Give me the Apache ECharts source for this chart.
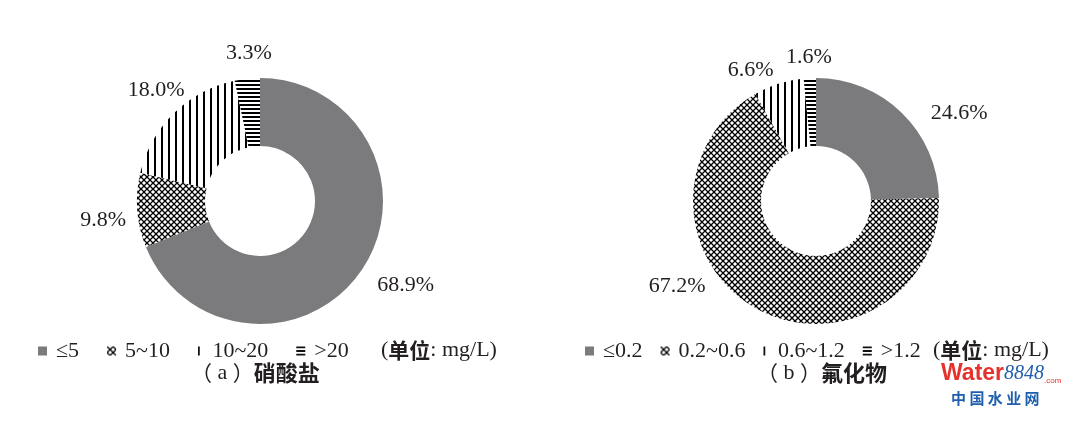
<!DOCTYPE html>
<html><head><meta charset="utf-8">
<script src="https://cdn.jsdelivr.net/npm/echarts@6/dist/echarts.min.js"></script>
<style>html,body{margin:0;padding:0;background:#fff}#c{width:1080px;height:422px}</style>
</head><body><div id="c"></div>
<script>
// ---- data ----
const nitrateCategories = ['≤5', '5~10', '10~20', '>20'];
const nitrateValues = [68.9, 9.8, 18.0, 3.3];
const fluorideCategories = ['≤0.2', '0.2~0.6', '0.6~1.2', '>1.2'];
const fluorideValues = [24.6, 67.2, 6.6, 1.6];
const unitText = '单位';
const unitRest = ': mg/L)';
const captionA = ['a', '硝酸盐'];
const captionB = ['b', '氟化物'];

// ---- styles ----
const SERIF = "'Liberation Serif', 'Times New Roman', 'Noto Sans CJK SC', serif";
const CJK = "'Noto Sans CJK SC', sans-serif";
const TXT = '#231f20';
const GRAY = '#7b7b7e';

function makePattern(w, h, draw) {
  const c = document.createElement('canvas');
  c.width = w; c.height = h;
  const g = c.getContext('2d');
  g.fillStyle = '#fff'; g.fillRect(0, 0, w, h);
  g.fillStyle = '#000'; g.strokeStyle = '#000';
  draw(g);
  return { image: c, repeat: 'repeat' };
}
const crossHatch = makePattern(6, 6, g => {
  g.lineWidth = 1.3;
  g.beginPath();
  g.moveTo(0, 0); g.lineTo(6, 6);
  g.moveTo(6, 0); g.lineTo(0, 6);
  g.stroke();
});
const verticalLines = makePattern(7, 7, g => { g.fillRect(0, 0, 2, 7); });
const horizontalLines = makePattern(4, 4, g => { g.fillRect(0, 0, 4, 2); });
const sliceColors = [GRAY, crossHatch, verticalLines, horizontalLines];

const legendIcons = [
  'rect',
  'rect',
  'path://M0,0H2V10H0Z',
  'path://M0,0H10V2H0Z M0,4H10V6H0Z M0,8H10V10H0Z'
];
const legendColors = [GRAY, crossHatch, '#111', '#111'];

// label placement tweaks: [angle offset (deg), radius (px)]
const nitrateLabelTweak = [[-4.1, 168], [-2.6, 158], [1.2, 152], [1.6, 148]];
const fluorideLabelTweak = [[14.1, 168], [28.8, 163], [-8.9, 146], [0.1, 144]];

const centerA = [260, 201];
const centerB = [816, 201];

function makeLabelLayout(values, center, tweak) {
  const total = values.reduce((a, b) => a + b, 0);
  return function (params) {
    const i = params.dataIndex;
    let before = 0;
    for (let k = 0; k < i; k++) before += values[k];
    const deg = (before + values[i] / 2) / total * 360 + tweak[i][0];
    const a = deg * Math.PI / 180;
    const r = tweak[i][1];
    return {
      x: center[0] + r * Math.sin(a),
      y: center[1] - r * Math.cos(a),
      align: 'center',
      verticalAlign: 'middle'
    };
  };
}

function pieSeries(cats, vals, center, tweak) {
  return {
    type: 'pie',
    center: center,
    radius: [55, 123],
    startAngle: 90,
    clockwise: true,
    silent: true,
    avoidLabelOverlap: false,
    itemStyle: { borderWidth: 0 },
    label: {
      show: true,
      position: 'outside',
      formatter: p => p.value.toFixed(1) + '%',
      fontFamily: SERIF,
      fontSize: 22,
      color: TXT
    },
    labelLine: { show: false },
    labelLayout: makeLabelLayout(vals, center, tweak),
    data: cats.map((n, i) => ({ name: n, value: vals[i], itemStyle: { color: sliceColors[i] } }))
  };
}

function legendFor(cats, left, gap) {
  return {
    left: left, top: 340, padding: 0,
    orient: 'horizontal',
    itemWidth: 9, itemHeight: 9, itemGap: gap,
    selectedMode: false,
    textStyle: { fontFamily: SERIF, fontSize: 22, color: TXT, padding: [0, 0, 0, 4] },
    data: cats.map((n, i) => ({ name: n, icon: legendIcons[i], itemStyle: { color: legendColors[i], borderWidth: 0 } }))
  };
}

function unitGraphic(x) {
  return {
    type: 'text', left: x, top: 339,
    style: {
      text: '{p|(}{b|' + unitText + '}{p|' + unitRest + '}',
      rich: {
        p: { fontFamily: SERIF, fontSize: 22, fill: TXT },
        b: { fontFamily: CJK, fontSize: 21, fontWeight: 'bold', fill: TXT }
      }
    }
  };
}
function captionGraphic(x, cap) {
  return {
    type: 'text', left: x, top: 362,
    style: {
      text: '{p|（}{a| ' + cap[0] + ' }{p|）}{b|' + cap[1] + '}',
      rich: {
        p: { fontFamily: CJK, fontSize: 21, fontWeight: 'normal', fill: TXT },
        a: { fontFamily: SERIF, fontSize: 22, fill: TXT },
        b: { fontFamily: CJK, fontSize: 22, fontWeight: 'bold', fill: TXT }
      }
    }
  };
}

const chart = echarts.init(document.getElementById('c'), null, { renderer: 'canvas' });
chart.setOption({
  backgroundColor: '#fff',
  animation: false,
  legend: [
    legendFor(nitrateCategories, 38, 28),
    legendFor(fluorideCategories, 585, 18)
  ],
  series: [
    pieSeries(nitrateCategories, nitrateValues, centerA, nitrateLabelTweak),
    pieSeries(fluorideCategories, fluorideValues, centerB, fluorideLabelTweak)
  ],
  graphic: [
    unitGraphic(381),
    unitGraphic(933),
    captionGraphic(191, captionA),
    captionGraphic(757, captionB),
    {
      type: 'text', left: 941, top: 362,
      style: {
        text: '{w|Water}{n|8848}{c|.com}',
        rich: {
          w: { fontFamily: "'Liberation Sans', Arial, sans-serif", fontSize: 23, fontWeight: 'bold', fill: '#e5322d' },
          n: { fontFamily: SERIF, fontSize: 20, fontStyle: 'italic', fill: '#1f5fae' },
          c: { fontFamily: "'Liberation Sans', Arial, sans-serif", fontSize: 8, fill: '#e5322d', verticalAlign: 'bottom' }
        }
      }
    },
    {
      type: 'text', left: 951, top: 391,
      style: { text: '中 国 水 业 网', fontFamily: CJK, fontSize: 15, fontWeight: 'bold', fill: '#1f5fae' }
    }
  ]
});
</script>
</body></html>
